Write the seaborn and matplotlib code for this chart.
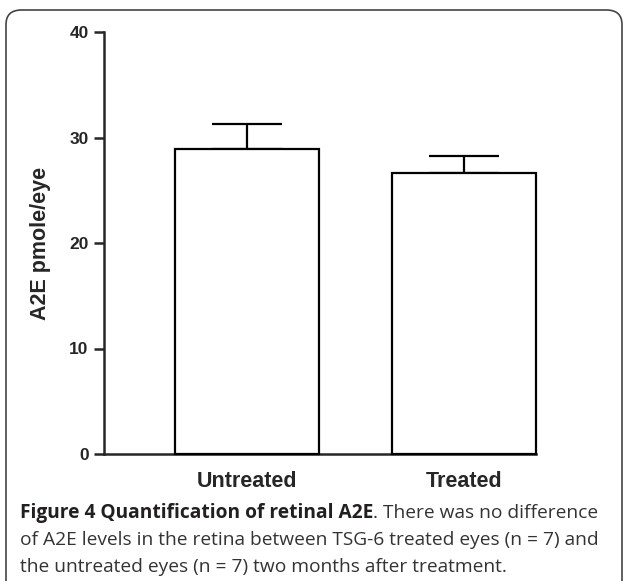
# Basics
import numpy as np
import pandas as pd

# Visualization
import matplotlib.pyplot as plt
from matplotlib.patches import FancyBboxPatch
import seaborn as sns

# Data
groups = ['Untreated', 'Treated']
mean_a2e = [28.9, 26.6]
sem_a2e = [2.35, 1.6]
y_ticks = [0, 10, 20, 30, 40]

caption_bold = 'Figure 4 Quantification of retinal A2E'
caption_rest = '. There was no difference'
caption_lines = ['of A2E levels in the retina between TSG-6 treated eyes (n = 7) and',
                 'the untreated eyes (n = 7) two months after treatment.']

sns.set_style('ticks')
plt.rcParams['font.family'] = ['Liberation Sans', 'DejaVu Sans']

fig = plt.figure(figsize=(6.24, 5.81), dpi=100)
ax = fig.add_axes([104 / 624, 1 - 454 / 581, 432 / 624, 422 / 581])

df = pd.DataFrame({'group': groups, 'a2e': mean_a2e})
sns.barplot(data=df, x='group', y='a2e', ax=ax, color='white', width=0.665,
            edgecolor='black', linewidth=1.6, errorbar=None, zorder=3)
for p in ax.patches:
    p.set_clip_on(False)

# Upper error bars only
pos = np.arange(len(groups))
ax.errorbar(pos, mean_a2e, yerr=[np.zeros(len(sem_a2e)), sem_a2e], fmt='none',
            ecolor='black', elinewidth=1.6, capsize=25, capthick=1.6, zorder=2)

# Axes formatting (Prism style)
ax.set_xlim(-0.66, 1 + 0.665 / 2)
ax.set_ylim(0, 40)
ax.set_yticks(y_ticks)
ax.set_ylabel('A2E pmole/eye', fontsize=15.5, fontweight='bold', labelpad=13)
ax.set_xlabel('')
ax.tick_params(axis='y', length=7, width=1.8, labelsize=12.5, pad=4)
ax.tick_params(axis='x', length=0, labelsize=15.5, pad=12)
for lab in ax.get_xticklabels() + ax.get_yticklabels():
    lab.set_fontweight('bold')
for side in ['left', 'bottom']:
    ax.spines[side].set_linewidth(1.8)
sns.despine(ax=ax)

# Rounded border around the figure
box = FancyBboxPatch((6 / 624, -0.05), 616 / 624, 1 - 10 / 581 + 0.05,
                     boxstyle='round,pad=0,rounding_size=0.025',
                     transform=fig.transFigure, fill=False,
                     edgecolor='#444444', linewidth=1.2)
fig.patches.append(box)

# Caption
cap_font = ['Open Sans', 'DejaVu Sans']
cap_size = 13.8
x0 = 20 / 624
t = fig.text(x0, 1 - 513 / 581, caption_bold, fontsize=cap_size, fontweight='bold',
             family=cap_font, color='#231f20', va='center')
fig.canvas.draw()
bb = t.get_window_extent()
fig.text(bb.x1 / fig.bbox.width, 1 - 513 / 581, caption_rest, fontsize=cap_size,
         family=cap_font, color='#333333', va='center')
for i, line in enumerate(caption_lines):
    fig.text(x0, 1 - (540 + 26.5 * i) / 581, line, fontsize=cap_size,
             family=cap_font, color='#333333', va='center')

fig.savefig('out.png', dpi=100)
